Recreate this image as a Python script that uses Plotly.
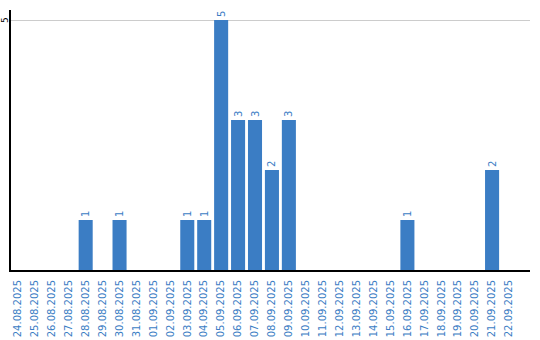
import plotly.graph_objects as go

dates = ["24.08.2025", "25.08.2025", "26.08.2025", "27.08.2025", "28.08.2025", "29.08.2025",
         "30.08.2025", "31.08.2025", "01.09.2025", "02.09.2025", "03.09.2025", "04.09.2025",
         "05.09.2025", "06.09.2025", "07.09.2025", "08.09.2025", "09.09.2025", "10.09.2025",
         "11.09.2025", "12.09.2025", "13.09.2025", "14.09.2025", "15.09.2025", "16.09.2025",
         "17.09.2025", "18.09.2025", "19.09.2025", "20.09.2025", "21.09.2025", "22.09.2025"]
counts = [0, 0, 0, 0, 1, 0, 1, 0, 0, 0, 1, 1, 5, 3, 3, 2, 3, 0, 0, 0, 0, 0, 0, 1, 0, 0, 0, 0, 2, 0]
y_ticks = [5]

blue = "rgb(59,125,196)"
labels = [str(v) if v else "" for v in counts]

fig = go.Figure(go.Bar(
    x=dates, y=counts, text=labels, textposition="outside", textangle=-90,
    textfont=dict(color=blue, size=10, family="DejaVu Sans"),
    marker=dict(color=blue, line=dict(width=0)),
    cliponaxis=False,
))
for t in y_ticks:
    fig.add_annotation(x=0, xref="paper", y=t, yref="y", text=str(t), showarrow=False,
                       textangle=-90, xanchor="center", yanchor="middle", xshift=-6,
                       font=dict(color="black", size=9, family="DejaVu Sans"))
fig.update_layout(
    width=540, height=340,
    margin=dict(l=11, r=10, t=10, b=70),
    paper_bgcolor="white", plot_bgcolor="white",
    bargap=0.17, showlegend=False,
    xaxis=dict(type="category", range=[-0.41, 30.24], tickangle=-90, automargin=False,
               tickfont=dict(color=blue, size=10, family="DejaVu Sans"),
               showline=True, linecolor="black", linewidth=2, ticks="", showgrid=False,
               ticklabelstandoff=4),
    yaxis=dict(range=[0, 5.2], tickvals=y_ticks, showticklabels=False, automargin=False,
               showline=True, linecolor="black", linewidth=2, ticks="",
               showgrid=True, gridcolor="#cccccc", gridwidth=1, zeroline=False),
)
fig.write_html("out.html")
